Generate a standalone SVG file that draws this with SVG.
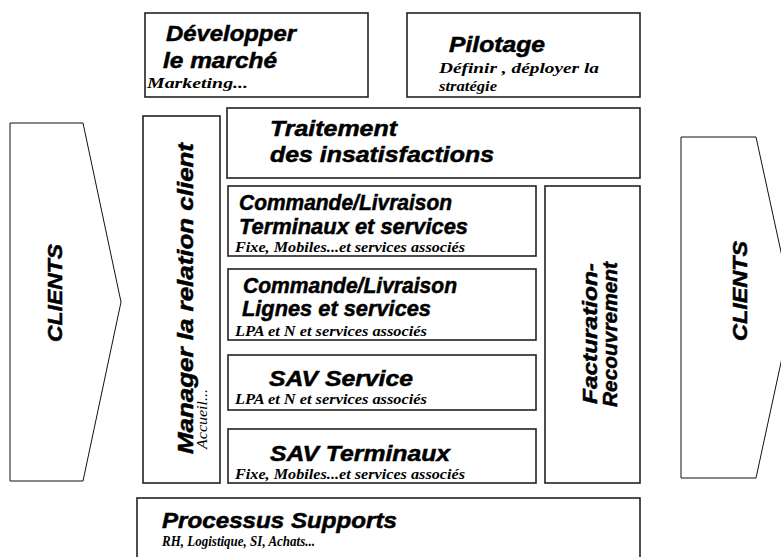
<svg xmlns="http://www.w3.org/2000/svg" width="781" height="557" viewBox="0 0 781 557">
<style>
.box{fill:#fff;stroke:#222;stroke-width:1.6}
.arrow{fill:#fff;stroke:#111;stroke-width:1}
.h{font-family:"Liberation Sans",Arial,sans-serif;font-weight:bold;font-style:italic;font-size:22px;fill:#000;stroke:#000;stroke-width:0.5}
.s{font-family:"Liberation Serif","Times New Roman",serif;font-weight:bold;font-style:italic;font-size:14px;fill:#000}
.a{font-family:"Liberation Serif","Times New Roman",serif;font-style:italic;font-size:14px;fill:#000}
</style>
<rect width="781" height="557" fill="#fff"/>
<g id="clients-left">
<polygon class="arrow" points="10,123 83,123 121,302 83,481 10,481"/>
<text class="h" transform="translate(62,293) rotate(-90)" text-anchor="middle" textLength="98" lengthAdjust="spacingAndGlyphs" style="font-size:20px">CLIENTS</text>
</g>
<g id="clients-right">
<polygon class="arrow" points="681,137 756,137 793,307 756,478 681,478"/>
<text class="h" transform="translate(747,291) rotate(-90)" text-anchor="middle" textLength="100" lengthAdjust="spacingAndGlyphs" style="font-size:20px">CLIENTS</text>
</g>
<g id="developper">
<rect class="box" x="145" y="13" width="223" height="84"/>
<text class="h" x="166" y="41" textLength="130" lengthAdjust="spacingAndGlyphs">Développer</text>
<text class="h" x="163" y="68" textLength="114" lengthAdjust="spacingAndGlyphs">le marché</text>
<text class="s" x="147" y="88" textLength="101" lengthAdjust="spacingAndGlyphs">Marketing...</text>
</g>
<g id="pilotage">
<rect class="box" x="407" y="13" width="233" height="84"/>
<text class="h" x="449" y="52" textLength="96" lengthAdjust="spacingAndGlyphs">Pilotage</text>
<text class="s" x="439" y="73" textLength="160" lengthAdjust="spacingAndGlyphs">Définir , déployer la</text>
<text class="s" x="439" y="91" textLength="58" lengthAdjust="spacingAndGlyphs">stratégie</text>
</g>
<g id="manager">
<rect class="box" x="143" y="116" width="77" height="367"/>
<text class="h" transform="translate(193,454) rotate(-90)" textLength="311" lengthAdjust="spacingAndGlyphs">Manager la relation client</text>
<text class="a" transform="translate(207,449) rotate(-90)" textLength="60" lengthAdjust="spacingAndGlyphs">Accueil...</text>
</g>
<g id="traitement">
<rect class="box" x="227" y="108" width="413" height="70"/>
<text class="h" x="270" y="136" textLength="127" lengthAdjust="spacingAndGlyphs">Traitement</text>
<text class="h" x="270" y="162" textLength="224" lengthAdjust="spacingAndGlyphs">des insatisfactions</text>
</g>
<g id="commande-terminaux">
<rect class="box" x="228" y="186" width="308" height="70"/>
<text class="h" x="239" y="210" textLength="213" lengthAdjust="spacingAndGlyphs">Commande/Livraison</text>
<text class="h" x="239" y="234" textLength="229" lengthAdjust="spacingAndGlyphs">Terminaux et services</text>
<text class="s" x="235" y="252" textLength="230" lengthAdjust="spacingAndGlyphs">Fixe, Mobiles...et services associés</text>
</g>
<g id="commande-lignes">
<rect class="box" x="228" y="269" width="308" height="71"/>
<text class="h" x="243" y="293" textLength="214" lengthAdjust="spacingAndGlyphs">Commande/Livraison</text>
<text class="h" x="242" y="316" textLength="189" lengthAdjust="spacingAndGlyphs">Lignes et services</text>
<text class="s" x="235" y="336" textLength="192" lengthAdjust="spacingAndGlyphs">LPA et N et services associés</text>
</g>
<g id="sav-service">
<rect class="box" x="228" y="355" width="308" height="55"/>
<text class="h" x="269" y="386" textLength="144" lengthAdjust="spacingAndGlyphs">SAV Service</text>
<text class="s" x="235" y="404" textLength="192" lengthAdjust="spacingAndGlyphs">LPA et N et services associés</text>
</g>
<g id="sav-terminaux">
<rect class="box" x="228" y="429" width="308" height="54"/>
<text class="h" x="270" y="461" textLength="180" lengthAdjust="spacingAndGlyphs">SAV Terminaux</text>
<text class="s" x="235" y="479" textLength="230" lengthAdjust="spacingAndGlyphs">Fixe, Mobiles...et services associés</text>
</g>
<g id="facturation">
<rect class="box" x="545" y="186" width="95" height="297"/>
<text class="h" transform="translate(597,404) rotate(-90)" textLength="141" lengthAdjust="spacingAndGlyphs" style="font-size:20px">Facturation-</text>
<text class="h" transform="translate(617,407) rotate(-90)" textLength="145" lengthAdjust="spacingAndGlyphs" style="font-size:20px">Recouvrement</text>
</g>
<g id="processus-supports">
<rect class="box" x="137" y="498" width="503" height="70"/>
<text class="h" x="162" y="528" textLength="235" lengthAdjust="spacingAndGlyphs">Processus Supports</text>
<text class="s" x="162" y="546" textLength="153" lengthAdjust="spacingAndGlyphs">RH, Logistique, SI, Achats...</text>
</g>
<g id="connectors"></g>
</svg>
